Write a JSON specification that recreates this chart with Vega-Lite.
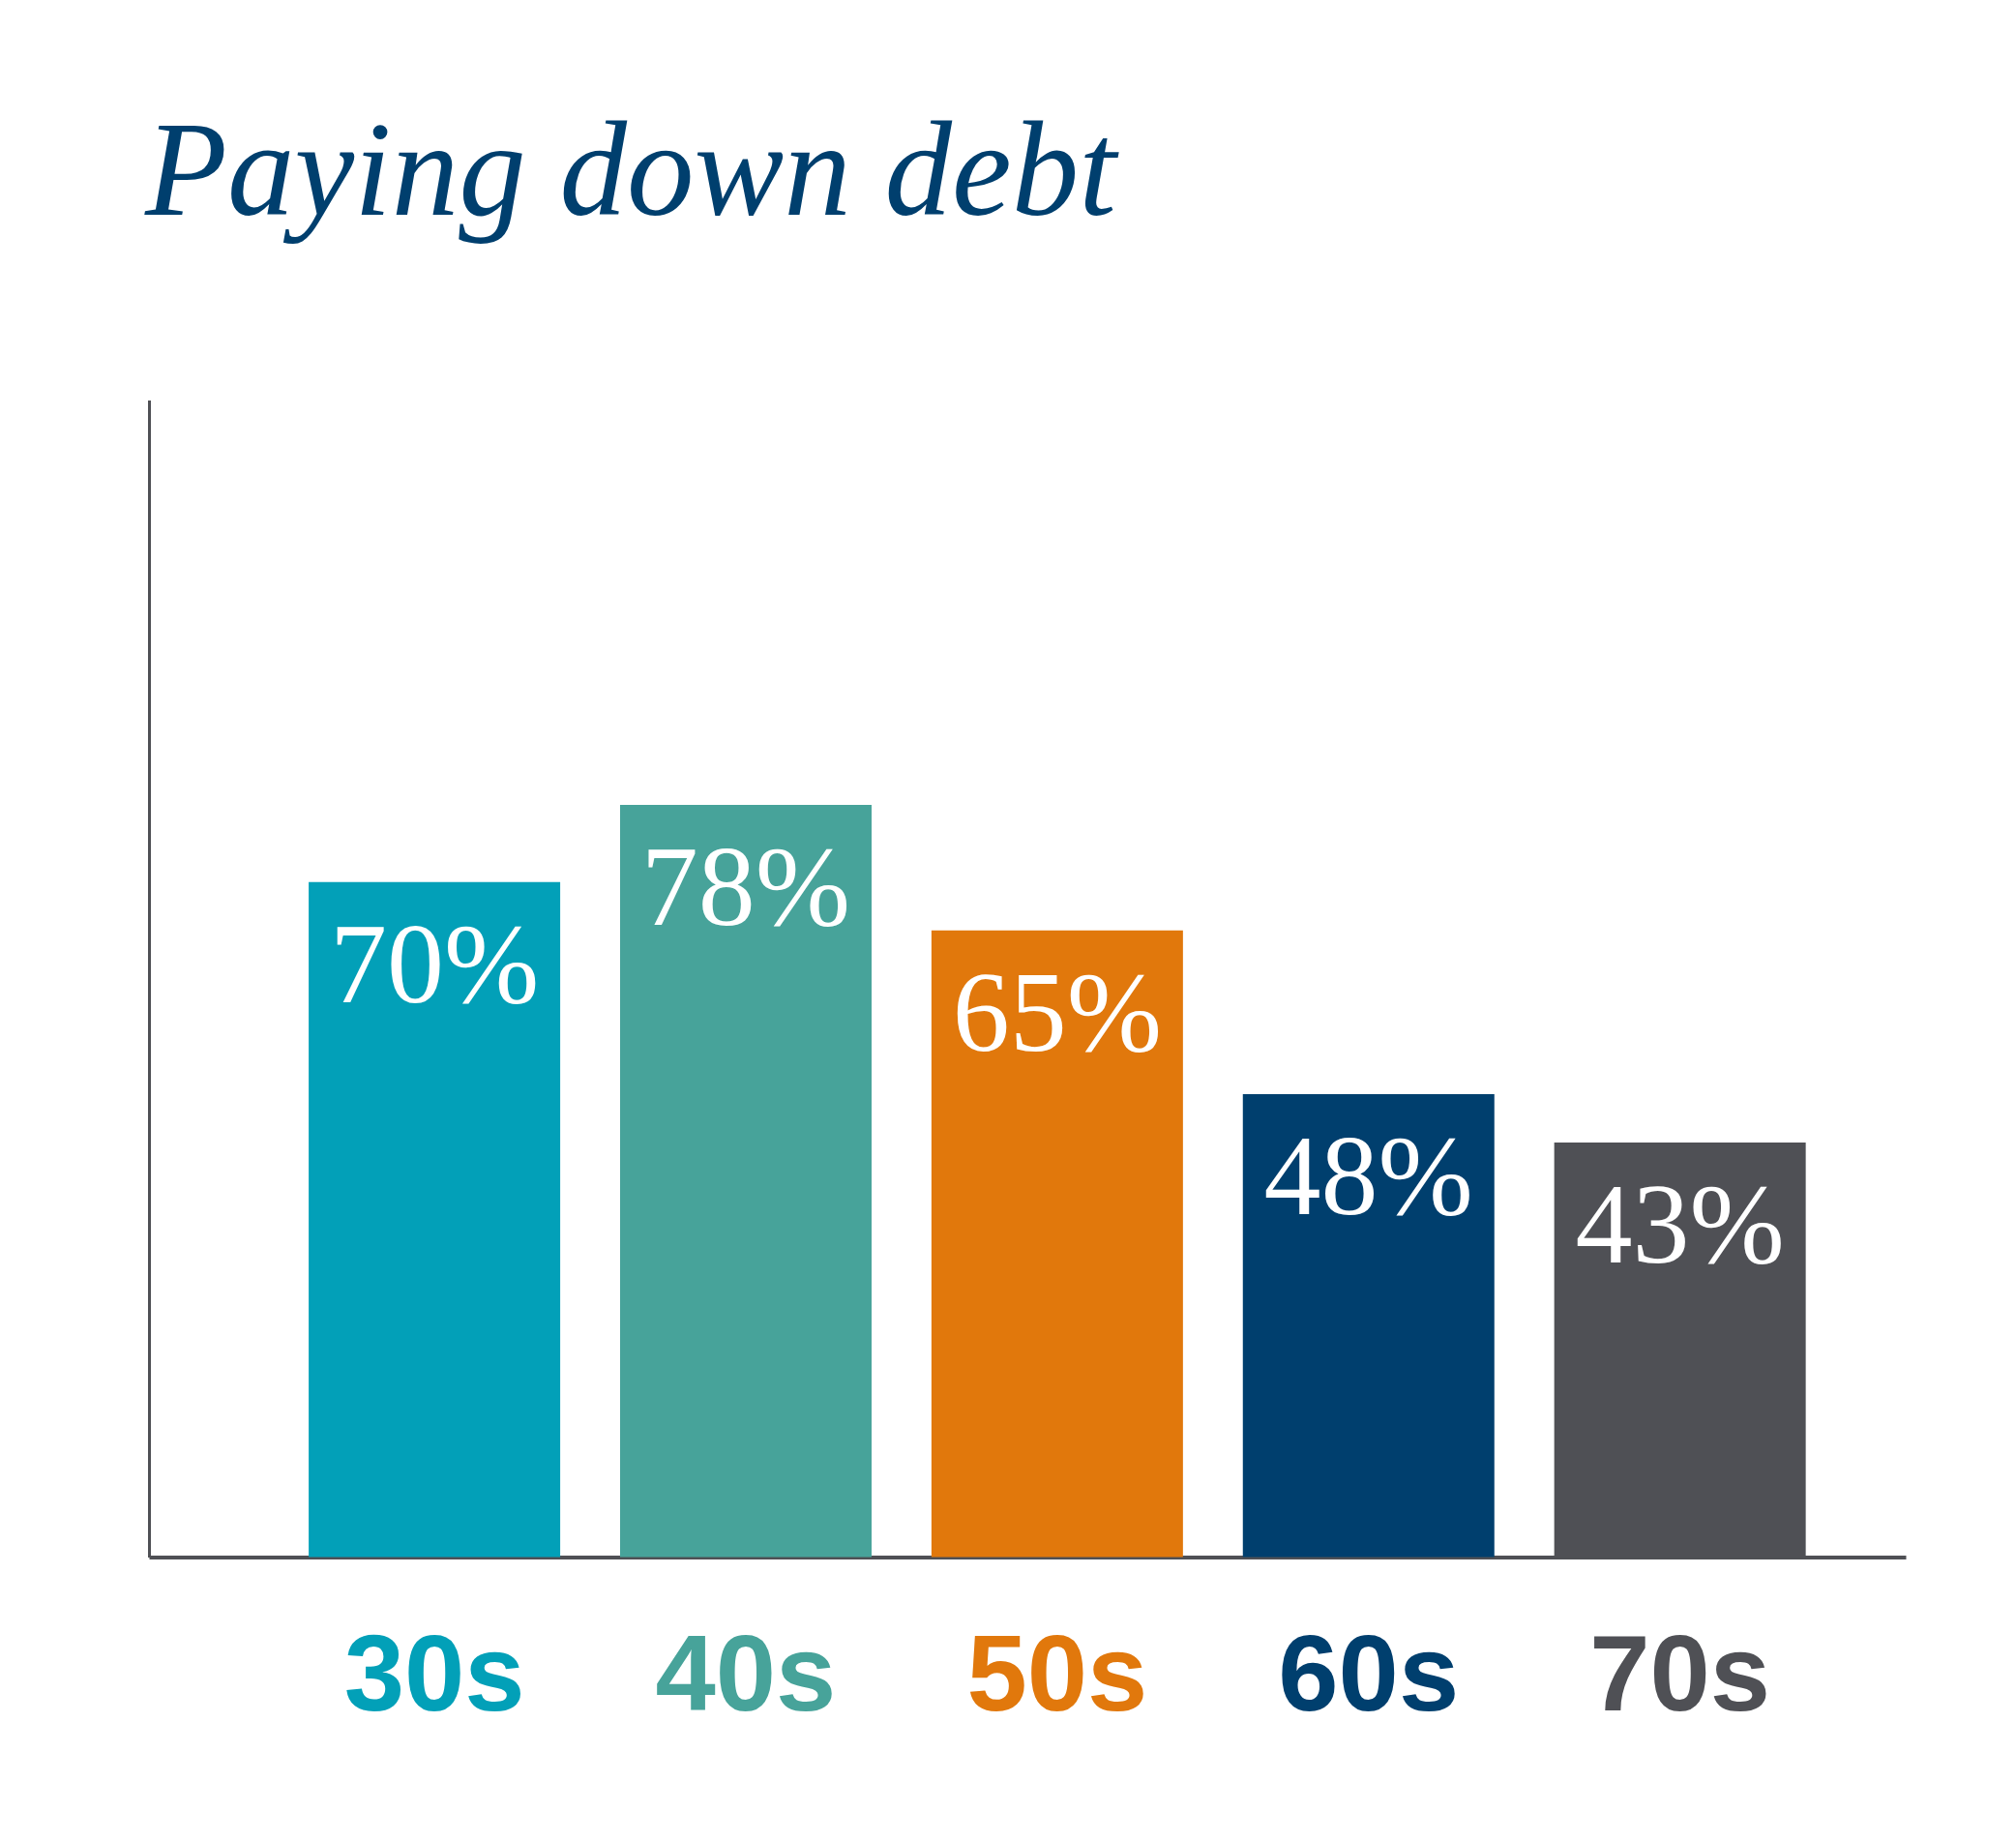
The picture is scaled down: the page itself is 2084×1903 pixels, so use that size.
{
  "$schema": "https://vega.github.io/schema/vega-lite/v6.json",
  "width": 1816,
  "height": 1196,
  "autosize": "none",
  "padding": {"left": 154, "top": 413.5, "right": 114, "bottom": 293.5},
  "background": "white",
  "config": {"view": {"stroke": null}},
  "title": {
    "text": "Paying down debt",
    "anchor": "start",
    "frame": "group",
    "font": "Liberation Serif",
    "fontStyle": "italic",
    "fontWeight": "normal",
    "fontSize": 139,
    "color": "#003f6e",
    "baseline": "alphabetic",
    "offset": 53,
    "dx": -4
  },
  "data": {
    "values": [
      {"decade": "30s", "pct": 0.70},
      {"decade": "40s", "pct": 0.78},
      {"decade": "50s", "pct": 0.65},
      {"decade": "60s", "pct": 0.48},
      {"decade": "70s", "pct": 0.43}
    ]
  },
  "encoding": {
    "x": {
      "field": "decade",
      "type": "nominal",
      "sort": null,
      "scale": {"paddingInner": 0.1923, "paddingOuter": 0.417, "align": 0.615},
      "axis": {
        "title": null,
        "ticks": false,
        "labelAngle": 0,
        "labelLimit": 0,
        "labelFont": "Liberation Sans",
        "labelFontWeight": "bold",
        "labelFontSize": 112,
        "labelBaseline": "alphabetic",
        "labelPadding": 158,
        "labelColor": {"expr": "datum.value == '30s' ? '#02a0b8' : datum.value == '40s' ? '#47a39a' : datum.value == '50s' ? '#e1780c' : datum.value == '60s' ? '#003f6e' : '#4f5055'"},
        "domainColor": "#4f5055",
        "domainWidth": 4
      }
    },
    "y": {
      "field": "pct",
      "type": "quantitative",
      "scale": {"domain": [0, 1.2]},
      "axis": {
        "title": null,
        "labels": false,
        "ticks": false,
        "grid": false,
        "domainColor": "#4f5055",
        "domainWidth": 3
      }
    }
  },
  "layer": [
    {
      "mark": {"type": "bar"},
      "encoding": {
        "color": {
          "field": "decade",
          "type": "nominal",
          "legend": null,
          "scale": {
            "domain": ["30s", "40s", "50s", "60s", "70s"],
            "range": ["#02a0b8", "#47a39a", "#e1780c", "#003f6e", "#4f5055"]
          }
        }
      }
    },
    {
      "mark": {
        "type": "text",
        "color": "white",
        "font": "Liberation Serif",
        "fontSize": 118,
        "align": "center",
        "baseline": "alphabetic",
        "dy": 124
      },
      "encoding": {
        "text": {"field": "pct", "type": "quantitative", "format": ".0%"}
      }
    }
  ]
}
